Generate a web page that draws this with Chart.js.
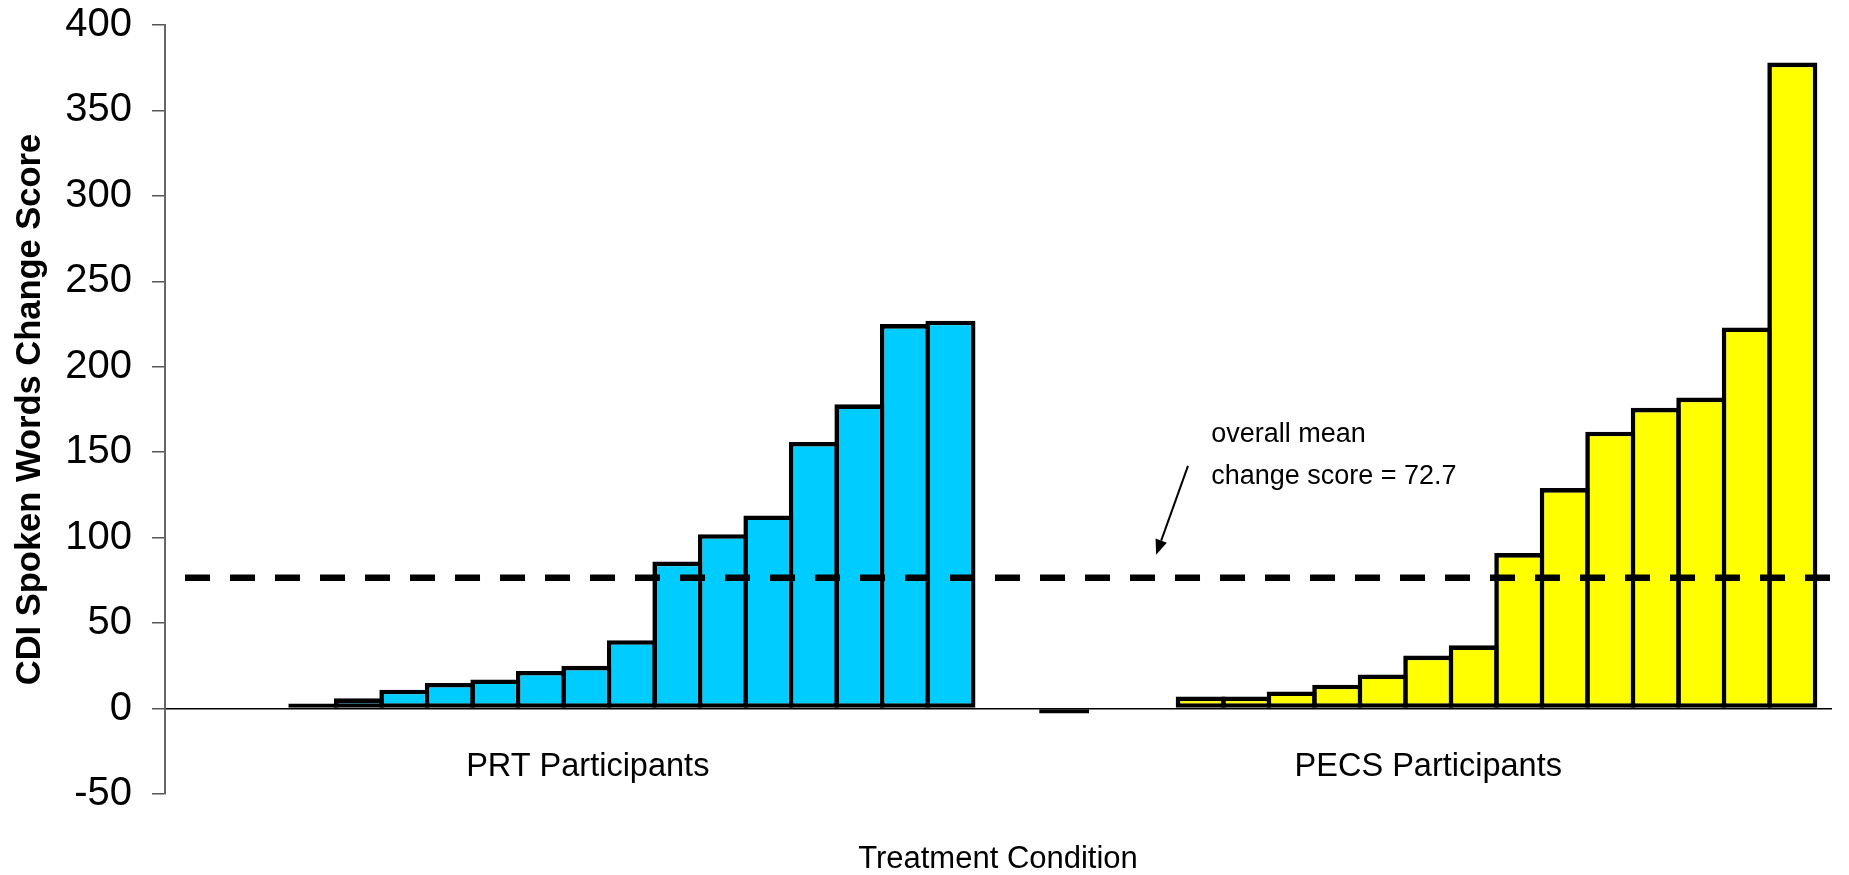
<!DOCTYPE html>
<html>
<head>
<meta charset="utf-8">
<script src="https://cdn.jsdelivr.net/npm/chart.js@4.4.1/dist/chart.umd.min.js"></script>
<style>
  html, body { margin: 0; padding: 0; background: #ffffff; }
  #wrap { width: 1849px; height: 875px; position: relative; }
</style>
</head>
<body>
<div id="wrap"><canvas id="chart"></canvas></div>
<script>
// ---------------- data ----------------
const categoryLabels = ['PRT Participants', 'PECS Participants'];
const prtValues = [2, 6, 11, 15, 17, 22, 25, 40, 86, 102, 113, 156, 178, 225, 227];
const separatorValues = [-1];
const pecsValues = [7, 7, 10, 14, 20, 31, 37, 91, 129, 162, 176, 182, 223, 378];
const meanLineValue = 76.5;
const yTickValues = [-50, 0, 50, 100, 150, 200, 250, 300, 350, 400];
const noteLines = ['overall mean', 'change score = 72.7'];

// ---------------- layout (slot units on the x axis) ----------------
const PRT_START = 0;
const SEP_POS = 16.5;
const PECS_START = 19.5;
const X_MIN = -3.26;
const X_MAX = 33.35;
const CATEGORY_TICKS = [6.03, 24.5];
const MEAN_FROM = -2.82;
const NOTE_X = 19.73;
const NOTE_Y = [156, 131.6];
const ARROW_FROM = [19.22, 142];
const ARROW_TO = [18.52, 90];

const FONT = "'Liberation Sans', Arial, Helvetica, sans-serif";

const toPoints = (arr, start) => arr.map((v, i) => ({ x: start + i, y: v }));

const barCommon = {
  type: 'bar',
  grouped: false,
  borderColor: '#000000',
  borderWidth: 4.6,
  borderSkipped: false,
  barPercentage: 1.1,
  categoryPercentage: 1.0,
  minBarLength: 5,
  order: 1
};

const notePlugin = {
  id: 'meanNote',
  afterDatasetsDraw(chart) {
    const { ctx, scales: { x, y } } = chart;
    ctx.save();
    ctx.fillStyle = '#000';
    ctx.font = '27px ' + FONT;
    ctx.textAlign = 'left';
    ctx.textBaseline = 'alphabetic';
    const tx = x.getPixelForValue(NOTE_X);
    noteLines.forEach((t, i) => ctx.fillText(t, tx, y.getPixelForValue(NOTE_Y[i])));
    const x1 = x.getPixelForValue(ARROW_FROM[0]), y1 = y.getPixelForValue(ARROW_FROM[1]);
    const x2 = x.getPixelForValue(ARROW_TO[0]), y2 = y.getPixelForValue(ARROW_TO[1]);
    const ang = Math.atan2(y2 - y1, x2 - x1);
    const hl = 15, hw = 6;
    const bx = x2 - hl * Math.cos(ang), by = y2 - hl * Math.sin(ang);
    ctx.strokeStyle = '#000';
    ctx.lineWidth = 2;
    ctx.beginPath();
    ctx.moveTo(x1, y1);
    ctx.lineTo(bx, by);
    ctx.stroke();
    ctx.beginPath();
    ctx.moveTo(x2, y2);
    ctx.lineTo(bx + hw * Math.sin(ang), by - hw * Math.cos(ang));
    ctx.lineTo(bx - hw * Math.sin(ang), by + hw * Math.cos(ang));
    ctx.closePath();
    ctx.fill();
    ctx.restore();
  }
};

new Chart(document.getElementById('chart'), {
  type: 'bar',
  data: {
    datasets: [
      {
        type: 'line',
        label: 'overall mean',
        data: [{ x: MEAN_FROM, y: meanLineValue }, { x: X_MAX, y: meanLineValue }],
        borderColor: '#000000',
        borderWidth: 6.5,
        borderDash: [25, 20],
        borderDashOffset: 0,
        borderCapStyle: 'butt',
        pointRadius: 0,
        fill: false,
        order: 0
      },
      Object.assign({}, barCommon, {
        label: 'PRT Participants',
        data: toPoints(prtValues, PRT_START),
        backgroundColor: '#00CCFF'
      }),
      Object.assign({}, barCommon, {
        label: 'separator',
        data: toPoints(separatorValues, SEP_POS),
        backgroundColor: '#000000'
      }),
      Object.assign({}, barCommon, {
        label: 'PECS Participants',
        data: toPoints(pecsValues, PECS_START),
        backgroundColor: '#FFFF00'
      })
    ]
  },
  options: {
    responsive: true,
    maintainAspectRatio: false,
    animation: false,
    layout: { padding: { top: 0, right: 18, bottom: 0, left: 0 } },
    plugins: {
      legend: { display: false },
      tooltip: { enabled: false },
      title: {
        display: true,
        fullSize: false,
        position: 'bottom',
        text: 'Treatment Condition',
        color: '#000',
        font: { family: FONT, size: 31, weight: 'normal', lineHeight: 1 },
        padding: { top: 50, bottom: 0 }
      }
    },
    scales: {
      x: {
        type: 'linear',
        axis: 'x',
        position: { y: 0 },
        min: X_MIN,
        max: X_MAX,
        offset: false,
        bounds: 'data',
        afterBuildTicks: (s) => { s.ticks = CATEGORY_TICKS.map(v => ({ value: v })); },
        ticks: {
          callback: (v, i) => categoryLabels[i],
          color: '#000',
          font: { family: FONT, size: 32.5, lineHeight: 1 },
          padding: 42,
          autoSkip: false,
          maxRotation: 0,
          minRotation: 0
        },
        grid: { drawOnChartArea: false, drawTicks: false },
        border: { color: '#000', width: 1.5 }
      },
      y: {
        min: -50,
        max: 400,
        afterBuildTicks: (s) => { s.ticks = yTickValues.map(v => ({ value: v })); },
        afterFit: (s) => { s.width = 165; },
        ticks: {
          color: '#000',
          font: { family: FONT, size: 40, lineHeight: 0.25 },
          padding: 20
        },
        grid: { drawOnChartArea: false, drawTicks: true, tickLength: 13, color: '#555', lineWidth: 1.5 },
        border: { color: '#666', width: 2 },
        title: {
          display: true,
          text: 'CDI Spoken Words Change Score',
          color: '#000',
          font: { family: FONT, size: 34.5, weight: 'bold', lineHeight: 1 },
          padding: { top: 13, bottom: 0 }
        }
      }
    }
  },
  plugins: [notePlugin]
});
</script>
</body>
</html>
